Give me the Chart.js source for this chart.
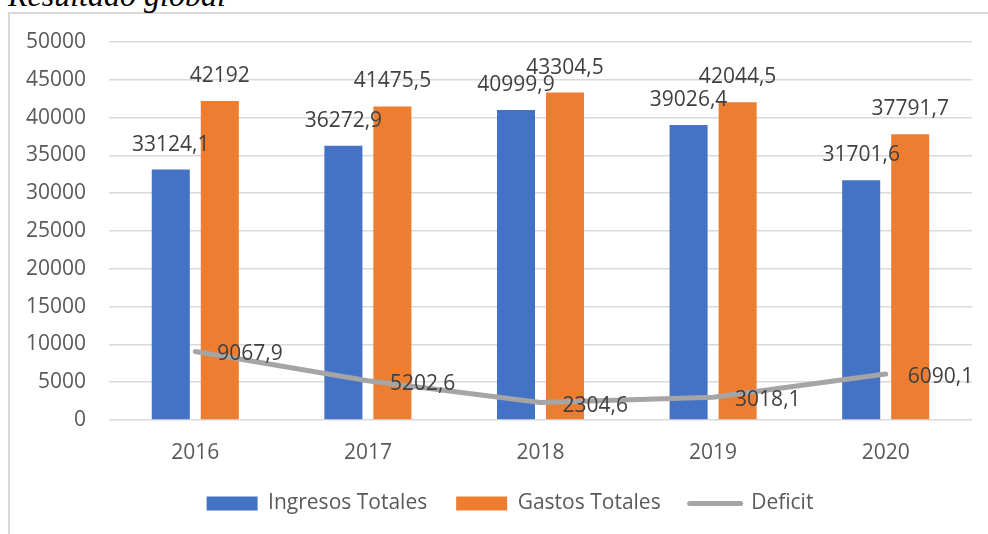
<!DOCTYPE html>
<html>
<head>
<meta charset="utf-8">
<script src="https://cdn.jsdelivr.net/npm/chart.js@4"></script>
<style>
  html, body { margin: 0; padding: 0; background: #fff; overflow: hidden; }
  body { width: 988px; height: 534px; position: relative; }
  #frame { position: absolute; left: 8px; top: 12px; width: 1100px; height: 700px; border: 2px solid #d9d9d9; box-sizing: border-box; }
  #title { position: absolute; left: 8px; top: -21px; font: italic 32px/32px "Liberation Serif", "Times New Roman", serif; color: #000; white-space: nowrap; }
  #chart { position: absolute; left: 0; top: 0; }
</style>
</head>
<body>
<div id="frame"></div>
<div id="title">Resultado global</div>
<canvas id="chart" width="988" height="534"></canvas>
<script>
// data
const years = ["2016", "2017", "2018", "2019", "2020"];
const ingresos = [33124.1, 36272.9, 40999.9, 39026.4, 31701.6];
const gastos = [42192, 41475.5, 43304.5, 42044.5, 37791.7];
const deficit = [9067.9, 5202.6, 2304.6, 3018.1, 6090.1];
const yTicks = [0, 5000, 10000, 15000, 20000, 25000, 30000, 35000, 40000, 45000, 50000];

const seriesNames = ["Ingresos Totales", "Gastos Totales", "Deficit"];
const colors = ["#4472c4", "#ed7d31", "#a5a5a5"];
const textFont = { family: "Open Sans", size: 21 };

// numbers shown with a decimal comma, like the original
function fmt(v){
  return String(v).replace(".", ",");
}

// draws the value labels next to every bar and line point
const valueLabels = {
  id: "valueLabels",
  afterDatasetsDraw(chart){
    const ctx = chart.ctx;
    ctx.save();
    ctx.font = "21px 'Open Sans'";
    ctx.fillStyle = "#404040";
    ctx.textBaseline = "alphabetic";
    chart.data.datasets.forEach((ds, i) => {
      const meta = chart.getDatasetMeta(i);
      meta.data.forEach((el, j) => {
        const txt = fmt(ds.data[j]);
        if(ds.type === "line"){
          ctx.textAlign = "left";
          ctx.fillText(txt, el.x + 22, el.y + 9);
        } else {
          ctx.textAlign = "center";
          ctx.fillText(txt, el.x, el.y - 19);
        }
      });
    });
    ctx.restore();
  }
};

// the legend in the original is centred on the whole frame, not on the plot
const legendShift = {
  id: "legendShift",
  afterLayout(chart){
    if(chart.legend){
      chart.legend.left += 24;
      chart.legend.right += 24;
    }
  }
};

new Chart(document.getElementById("chart"), {
  data: {
    labels: years,
    datasets: [
      {
        type: "bar",
        label: seriesNames[0],
        data: ingresos,
        backgroundColor: colors[0],
        barPercentage: 0.776,
        categoryPercentage: 0.568,
        order: 2
      },
      {
        type: "bar",
        label: seriesNames[1],
        data: gastos,
        backgroundColor: colors[1],
        barPercentage: 0.776,
        categoryPercentage: 0.568,
        order: 2
      },
      {
        type: "line",
        label: seriesNames[2],
        data: deficit,
        borderColor: colors[2],
        borderWidth: 5,
        borderCapStyle: "round",
        borderJoinStyle: "round",
        pointRadius: 0,
        tension: 0,
        order: 1
      }
    ]
  },
  options: {
    responsive: false,
    animation: false,
    devicePixelRatio: 1,
    layout: { padding: { top: 42, right: 16, bottom: 10, left: 0 } },
    scales: {
      x: {
        afterFit: (s) => { s.height = 44; },
        grid: { display: false, drawTicks: false },
        border: { display: false },
        ticks: { color: "#595959", font: textFont, padding: 20 }
      },
      y: {
        min: 0,
        max: 50000,
        afterBuildTicks: (s) => { s.ticks = yTicks.map(v => ({ value: v })); },
        afterFit: (s) => { s.width = 109; },
        grid: { color: "#d9d9d9", lineWidth: 1.5, drawTicks: false },
        border: { display: false },
        ticks: {
          color: "#595959",
          font: textFont,
          padding: 23,
          callback: (v) => String(v)
        }
      }
    },
    plugins: {
      legend: {
        position: "bottom",
        labels: {
          color: "#595959",
          font: textFont,
          usePointStyle: true,
          pointStyleWidth: 51,
          boxHeight: 14,
          padding: 29,
          generateLabels: (chart) => seriesNames.map((name, i) => ({
            text: name,
            datasetIndex: i,
            fillStyle: colors[i],
            strokeStyle: colors[i],
            fontColor: "#595959",
            lineWidth: i === 2 ? 5 : 0,
            lineCap: "round",
            pointStyle: i === 2 ? "line" : "rect",
            hidden: false
          }))
        }
      },
      tooltip: { enabled: false }
    }
  },
  plugins: [valueLabels, legendShift]
});
</script>
</body>
</html>
